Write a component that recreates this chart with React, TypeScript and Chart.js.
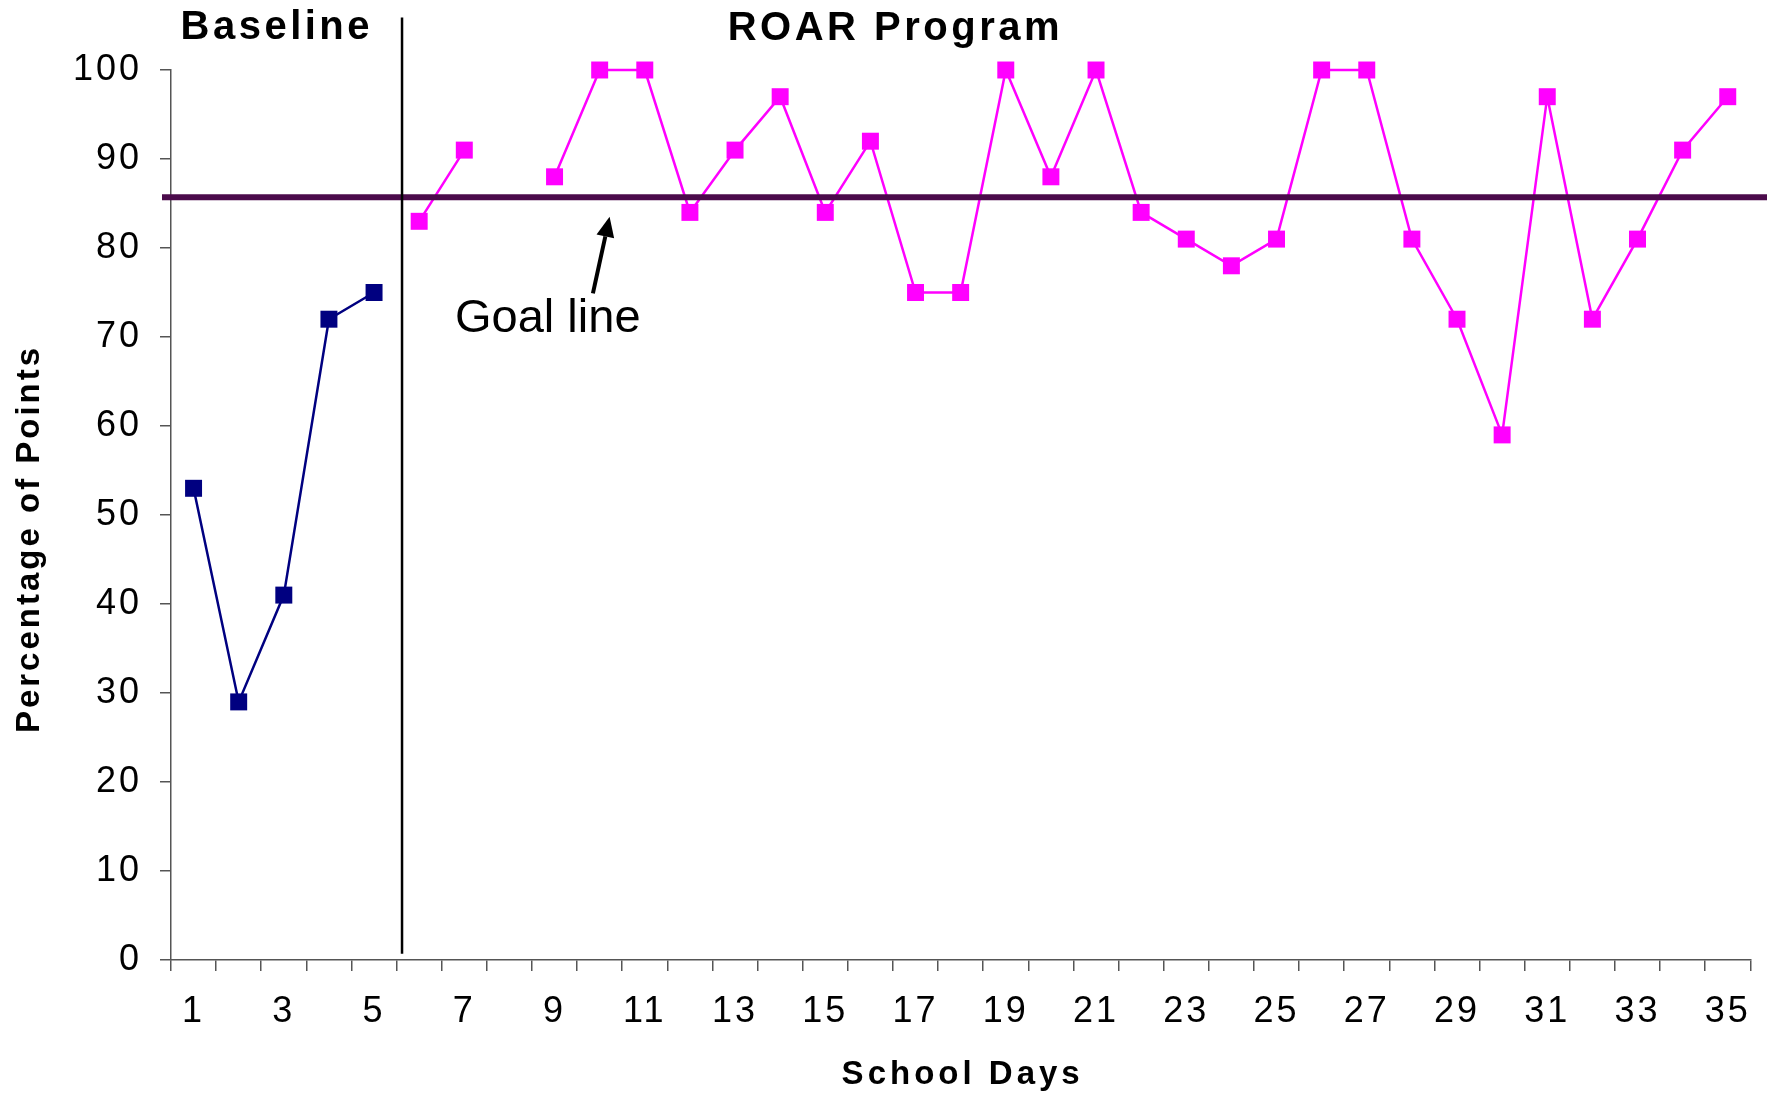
import React, { useEffect, useRef } from "react";
import { Chart, registerables } from "chart.js";

Chart.register(...registerables);

// ---- data ----
const days: string[] = Array.from({ length: 35 }, (_, i) => String(i + 1));
const baselineValues: (number | null)[] = [53, 29, 41, 72, 75];
const roarValues: (number | null)[] = [
  83, 91, null, 88, 100, 100, 84, 91, 97, 84, 92, 75, 75, 100, 88, 100, 84, 81,
  78, 81, 100, 100, 81, 72, 59, 97, 72, 81, 91, 97,
];
const baselineSeries = [...baselineValues, ...Array(30).fill(null)];
const roarSeries = [...Array(5).fill(null), ...roarValues];

const goalValue = 85.7;
const phaseChangeIndex = 4.62; // between day 5 and day 6
const yTicks = [0, 10, 20, 30, 40, 50, 60, 70, 80, 90, 100];

const FONT = "'Liberation Sans', Arial, Helvetica, sans-serif";

const tickSpacingPlugin = {
  id: "tickSpacing",
  beforeDraw(chart: any) {
    (chart.ctx as any).letterSpacing = "3px";
  },
  beforeDatasetsDraw(chart: any) {
    (chart.ctx as any).letterSpacing = "0px";
  },
};

const annotationsPlugin = {
  id: "annotations",
  afterDatasetsDraw(chart: any) {
    const { ctx, chartArea, scales } = chart;
    const xs = scales.x;
    const ys = scales.y;
    ctx.save();
    (ctx as any).letterSpacing = "0px";
    // goal line
    const gy = ys.getPixelForValue(goalValue);
    ctx.strokeStyle = "#4B0B4B";
    ctx.lineWidth = 6;
    ctx.beginPath();
    ctx.moveTo(chartArea.left - 9, gy);
    ctx.lineTo(chart.width, gy);
    ctx.stroke();

    // phase change line
    const px = xs.getPixelForValue(phaseChangeIndex);
    ctx.strokeStyle = "#000";
    ctx.lineWidth = 2.5;
    ctx.beginPath();
    ctx.moveTo(px, ys.getPixelForValue(105.9));
    ctx.lineTo(px, ys.getPixelForValue(0.7));
    ctx.stroke();

    // phase labels
    ctx.fillStyle = "#000";
    ctx.textAlign = "center";
    ctx.textBaseline = "middle";
    ctx.font = `bold 40px ${FONT}`;
    (ctx as any).letterSpacing = "3.5px";
    ctx.fillText("Baseline", xs.getPixelForValue(1.8) + 2, ys.getPixelForValue(104.7));
    ctx.fillText("ROAR Program", xs.getPixelForValue(15.51) + 2, ys.getPixelForValue(104.6));
    (ctx as any).letterSpacing = "0px";

    // goal line label
    ctx.font = `47px ${FONT}`;
    ctx.fillText("Goal line", xs.getPixelForValue(7.85), ys.getPixelForValue(72.0));

    // arrow
    const tx = xs.getPixelForValue(8.85);
    const ty = ys.getPixelForValue(74.9);
    const hx = xs.getPixelForValue(9.22);
    const hy = ys.getPixelForValue(83.5);
    const ang = Math.atan2(hy - ty, hx - tx);
    const headLen = 20;
    const headHalf = 9;
    const bx = hx - headLen * Math.cos(ang);
    const by = hy - headLen * Math.sin(ang);
    ctx.strokeStyle = "#000";
    ctx.lineWidth = 4;
    ctx.beginPath();
    ctx.moveTo(tx, ty);
    ctx.lineTo(bx, by);
    ctx.stroke();
    ctx.beginPath();
    ctx.moveTo(hx, hy);
    ctx.lineTo(bx + headHalf * Math.sin(ang), by - headHalf * Math.cos(ang));
    ctx.lineTo(bx - headHalf * Math.sin(ang), by + headHalf * Math.cos(ang));
    ctx.closePath();
    ctx.fillStyle = "#000";
    ctx.fill();

    // axis titles
    ctx.font = `bold 33px ${FONT}`;
    (ctx as any).letterSpacing = "4px";
    ctx.fillText("School Days", (chartArea.left + chartArea.right) / 2 + 2, chartArea.bottom + 115);
    (ctx as any).letterSpacing = "3px";
    ctx.translate(chartArea.left - 141, (chartArea.top + chartArea.bottom) / 2 + 24);
    ctx.rotate(-Math.PI / 2);
    ctx.fillText("Percentage of Points", 0, 0);
    (ctx as any).letterSpacing = "0px";
    ctx.restore();
  },
};

export default function App() {
  const canvasRef = useRef<HTMLCanvasElement | null>(null);

  useEffect(() => {
    const canvas = canvasRef.current;
    if (!canvas) return;
    const chart = new Chart(canvas, {
      type: "line",
      data: {
        labels: days,
        datasets: [
          {
            label: "Baseline",
            data: baselineSeries,
            borderColor: "#000080",
            backgroundColor: "#000080",
            borderWidth: 2.5,
            pointStyle: "rect",
            pointRadius: 12,
            pointBorderWidth: 0,
            pointBackgroundColor: "#000080",
            spanGaps: false,
            clip: false,
          },
          {
            label: "ROAR Program",
            data: roarSeries,
            borderColor: "#FF00FF",
            backgroundColor: "#FF00FF",
            borderWidth: 2.5,
            pointStyle: "rect",
            pointRadius: 12,
            pointBorderWidth: 0,
            pointBackgroundColor: "#FF00FF",
            spanGaps: false,
            clip: false,
          },
        ],
      },
      options: {
        animation: false,
        responsive: false,
        devicePixelRatio: 1,
        layout: { padding: { top: 70, right: 16, left: 0, bottom: 0 } },
        plugins: {
          legend: { display: false },
          tooltip: { enabled: false },
          title: { display: false },
        },
        scales: {
          x: {
            type: "category",
            offset: true,
            grid: {
              offset: true,
              drawOnChartArea: false,
              drawTicks: true,
              tickLength: 11,
              color: "#555",
              lineWidth: 1.5,
            },
            border: { display: true, color: "#555", width: 1.5 },
            ticks: {
              autoSkip: false,
              maxRotation: 0,
              minRotation: 0,
              padding: 19,
              color: "#000",
              font: { family: FONT, size: 36 },
              callback: (_v: any, i: number) => (i % 2 === 0 ? days[i] : ""),
            },
            afterFit: (scale: any) => {
              scale.height = 138;
            },
          },
          y: {
            min: 0,
            max: 100,
            afterBuildTicks: (scale: any) => {
              scale.ticks = yTicks.map((v) => ({ value: v }));
            },
            grid: {
              drawOnChartArea: false,
              drawTicks: true,
              tickLength: 11,
              color: "#555",
              lineWidth: 1.5,
            },
            border: { display: true, color: "#555", width: 1.5 },
            ticks: {
              padding: 18,
              color: "#000",
              font: { family: FONT, size: 36 },
            },
            afterFit: (scale: any) => {
              scale.width = 171;
            },
          },
        },
      },
      plugins: [tickSpacingPlugin, annotationsPlugin],
    });
    return () => chart.destroy();
  }, []);

  return (
    <div style={{ position: "absolute", left: 0, top: 0, width: 1767, height: 1098, background: "#fff" }}>
      <canvas ref={canvasRef} width={1767} height={1098} style={{ display: "block" }} />
    </div>
  );
}
